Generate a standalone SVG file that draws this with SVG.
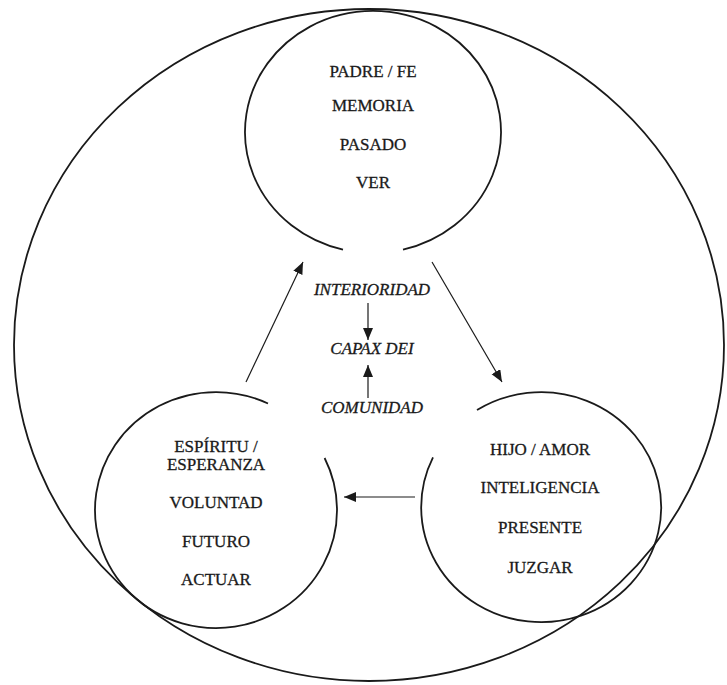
<svg xmlns="http://www.w3.org/2000/svg" width="727" height="685" viewBox="0 0 727 685">
<style>
.ring{fill:none;stroke:#1a1a1a;stroke-width:1.8}
.lbl{font-family:"Liberation Serif","Times New Roman",serif;font-size:17px;fill:#1a1a1a;stroke:#1a1a1a;stroke-width:0.3;text-anchor:middle}
.it{font-style:italic}
.arr{fill:none;stroke:#1a1a1a;stroke-width:1.2}
</style>
<defs>
<marker id="ah" markerUnits="userSpaceOnUse" markerWidth="14" markerHeight="12" refX="12" refY="5" orient="auto">
<path d="M0,0 L12,5 L0,10 Z" fill="#1a1a1a"/>
</marker>
</defs>
<rect width="727" height="685" fill="#ffffff"/>
<g id="outer">
<ellipse class="ring" cx="369" cy="345" rx="355" ry="336"/>
</g>
<g id="padre">
<path class="ring" d="M343 249.6 A128 121 0 1 1 403 249.6"/>
<text class="lbl" x="373" y="77">PADRE / FE</text>
<text class="lbl" x="373" y="111">MEMORIA</text>
<text class="lbl" x="373" y="150">PASADO</text>
<text class="lbl" x="373" y="188">VER</text>
</g>
<g id="espiritu">
<path class="ring" d="M324.6 458 A121 118 0 1 1 268 403.5"/>
<text class="lbl" x="216" y="452">ESPÍRITU /</text>
<text class="lbl" x="216" y="470">ESPERANZA</text>
<text class="lbl" x="216" y="508">VOLUNTAD</text>
<text class="lbl" x="216" y="547">FUTURO</text>
<text class="lbl" x="216" y="585">ACTUAR</text>
</g>
<g id="hijo">
<path class="ring" d="M477 410 A120 115 0 1 1 433 457.4"/>
<text class="lbl" x="540" y="455">HIJO / AMOR</text>
<text class="lbl" x="540" y="493">INTELIGENCIA</text>
<text class="lbl" x="540" y="533">PRESENTE</text>
<text class="lbl" x="540" y="573">JUZGAR</text>
</g>
<g id="interioridad"><text class="lbl it" x="372" y="295">INTERIORIDAD</text></g>
<g id="capax"><text class="lbl it" x="372" y="354">CAPAX DEI</text></g>
<g id="comunidad"><text class="lbl it" x="372" y="413">COMUNIDAD</text></g>
<g id="connectors">
<line class="arr" x1="246" y1="382" x2="303" y2="262" marker-end="url(#ah)"/>
<line class="arr" x1="432" y1="262" x2="502" y2="382" marker-end="url(#ah)"/>
<line class="arr" x1="415" y1="497" x2="344" y2="497" marker-end="url(#ah)"/>
<line class="arr" x1="368" y1="303" x2="368" y2="340" marker-end="url(#ah)"/>
<line class="arr" x1="368" y1="398" x2="368" y2="365" marker-end="url(#ah)"/>
</g>
</svg>
